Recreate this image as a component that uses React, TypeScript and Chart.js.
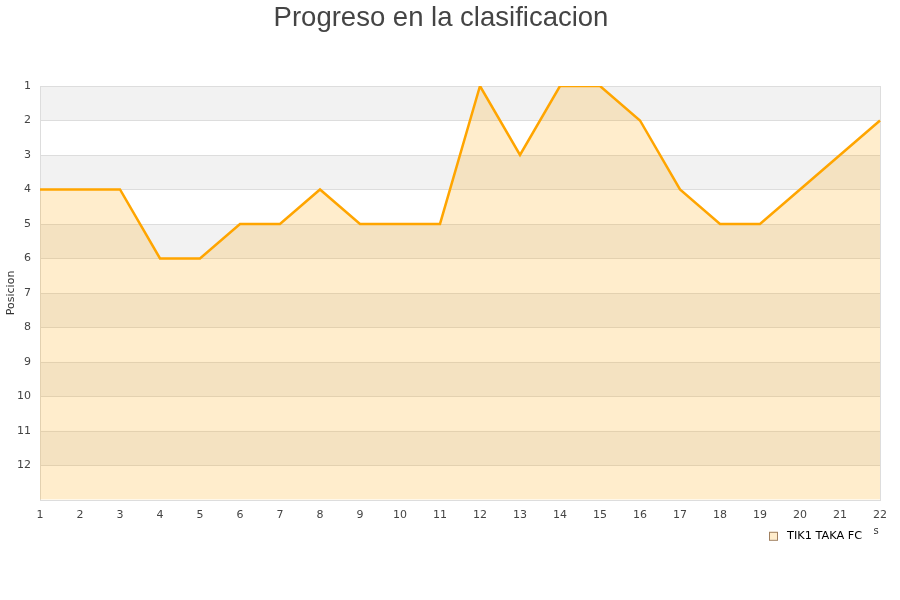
import React, { useEffect, useRef } from "react";
import { Chart, registerables } from "chart.js";

Chart.register(...registerables);

const jornadas = ["1","2","3","4","5","6","7","8","9","10","11","12","13","14","15","16","17","18","19","20","21","22"];
const posiciones = [4, 4, 4, 6, 6, 5, 5, 4, 5, 5, 5, 1, 3, 1, 1, 2, 4, 5, 5, 4, 3, 2];
const teamName = "TIK1 TAKA FC";
const chartTitle = "Progreso en la clasificacion";
const yTitle = "Posicion";
const yTickValues = [1, 2, 3, 4, 5, 6, 7, 8, 9, 10, 11, 12];

const bandsPlugin = {
  id: "bands",
  beforeDatasetsDraw(chart: any) {
    const { ctx, chartArea, scales } = chart;
    const y = scales.y;
    ctx.save();
    for (let i = 1; i < 13; i += 2) {
      const y1 = y.getPixelForValue(i);
      const y2 = y.getPixelForValue(i + 1);
      ctx.fillStyle = "#f2f2f2";
      ctx.fillRect(chartArea.left, Math.min(y1, y2), chartArea.right - chartArea.left, Math.abs(y2 - y1));
    }
    ctx.strokeStyle = "#dddddd";
    ctx.lineWidth = 1;
    for (let i = 1; i <= 13; i++) {
      const yy = Math.round(y.getPixelForValue(i)) + 0.5;
      ctx.beginPath();
      ctx.moveTo(chartArea.left, yy);
      ctx.lineTo(chartArea.right, yy);
      ctx.stroke();
    }
    ctx.strokeRect(Math.round(chartArea.left) + 0.5, Math.round(chartArea.top) + 0.5,
      Math.round(chartArea.right - chartArea.left), Math.round(chartArea.bottom - chartArea.top));
    ctx.restore();
  },
  afterDraw(chart: any) {
    const { ctx, chartArea } = chart;
    ctx.save();
    // legend
    const bx = chartArea.right - 111;
    const by = chartArea.bottom + 32;
    ctx.fillStyle = "#ffedcc";
    ctx.fillRect(bx, by, 8, 8);
    ctx.strokeStyle = "#a08060";
    ctx.lineWidth = 1;
    ctx.strokeRect(bx + 0.5, by + 0.5, 8, 8);
    ctx.fillStyle = "#000";
    ctx.font = "11.3px 'DejaVu Sans'";
    ctx.textAlign = "left";
    ctx.textBaseline = "middle";
    ctx.fillText(teamName, bx + 18, by + 4.5);
    // stray glyph
    ctx.fillStyle = "#333";
    ctx.font = "10px 'DejaVu Sans'";
    ctx.textAlign = "center";
    ctx.fillText("s", 876, 531);
    ctx.restore();
  },
};

export default function App() {
  const ref = useRef<HTMLCanvasElement>(null);
  useEffect(() => {
    if (!ref.current) return;
    const chart = new Chart(ref.current, {
      type: "line",
      data: {
        labels: jornadas,
        datasets: [
          {
            label: teamName,
            data: posiciones,
            borderColor: "#ffa500",
            backgroundColor: "rgba(255,165,0,0.2)",
            borderWidth: 2.5,
            pointRadius: 0,
            tension: 0,
            fill: "start",
          },
        ],
      },
      options: {
        responsive: false,
        animation: false,
        layout: { padding: { left: 2, right: 20, top: 0, bottom: 69 } },
        plugins: {
          title: {
            display: true,
            text: chartTitle,
            color: "#444",
            font: { family: "'Liberation Sans', Arial, sans-serif", size: 27.5, weight: "normal" },
            padding: { top: 2, bottom: 51 },
          },
          legend: { display: false },
          tooltip: { enabled: false },
        },
        scales: {
          x: {
            offset: false,
            grid: { display: false, drawTicks: false },
            border: { display: false },
            ticks: {
              color: "#444",
              font: { family: "'DejaVu Sans', sans-serif", size: 11 },
              padding: 9,
              maxRotation: 0,
              autoSkip: false,
            },
          },
          y: {
            type: "linear",
            reverse: true,
            min: 1,
            max: 13,
            afterBuildTicks: (axis: any) => {
              axis.ticks = yTickValues.map((v) => ({ value: v }));
            },
            afterFit: (axis: any) => {
              axis.width = 38;
            },
            grid: { display: false, drawTicks: false },
            border: { display: false },
            ticks: {
              color: "#444",
              font: { family: "'DejaVu Sans', sans-serif", size: 11 },
              padding: 9,
            },
            title: {
              display: true,
              text: yTitle,
              color: "#333",
              font: { family: "'DejaVu Sans', sans-serif", size: 11 },
              padding: { top: 3, bottom: 0 },
            },
          },
        },
      },
      plugins: [bandsPlugin],
    });
    return () => chart.destroy();
  }, []);
  return (
    <div style={{ position: "absolute", left: 0, top: 0, width: 900, height: 600, background: "#fff" }}>
      <canvas ref={ref} width={900} height={600} />
    </div>
  );
}
